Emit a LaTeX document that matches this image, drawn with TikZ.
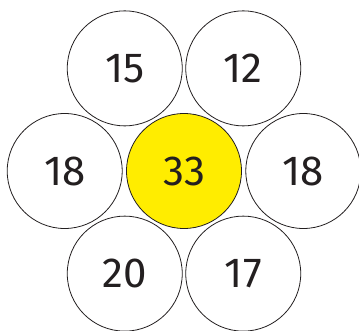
\documentclass[tikz,border=0pt]{standalone}
\usepackage{fontspec}
\setmainfont{Fira Sans}
\usepackage{tikz}
\usetikzlibrary{positioning}
\definecolor{petalYellow}{RGB}{255, 237, 0}
\definecolor{digitGray}{RGB}{35, 31, 32}
\tikzset{
  petal/.style={circle, draw=digitGray, line width=0.8pt, fill=white,
    minimum size=115pt, inner sep=0pt, text=digitGray,
    font=\fontsize{42}{50}\selectfont},
  core/.style={petal, fill=petalYellow},
}

\begin{document}
\begin{tikzpicture}[x=1pt, y=1pt]
    \useasboundingbox (0,0) rectangle (359,330);
    \node[core] (mid) at (184,159) {33};
    \node[petal, left=3.5pt of mid] (west) {18};
    \node[petal, right=3.5pt of mid] (east) {18};
    \node[petal] (nw) at ([shift={(120:118.5pt)}]mid) {15};
    \node[petal] (ne) at ([shift={(60:118.5pt)}]mid) {12};
    \node[petal] (sw) at ([shift={(240:118.5pt)}]mid) {20};
    \node[petal] (se) at ([shift={(300:118.5pt)}]mid) {17};
  \end{tikzpicture}
\end{document}
